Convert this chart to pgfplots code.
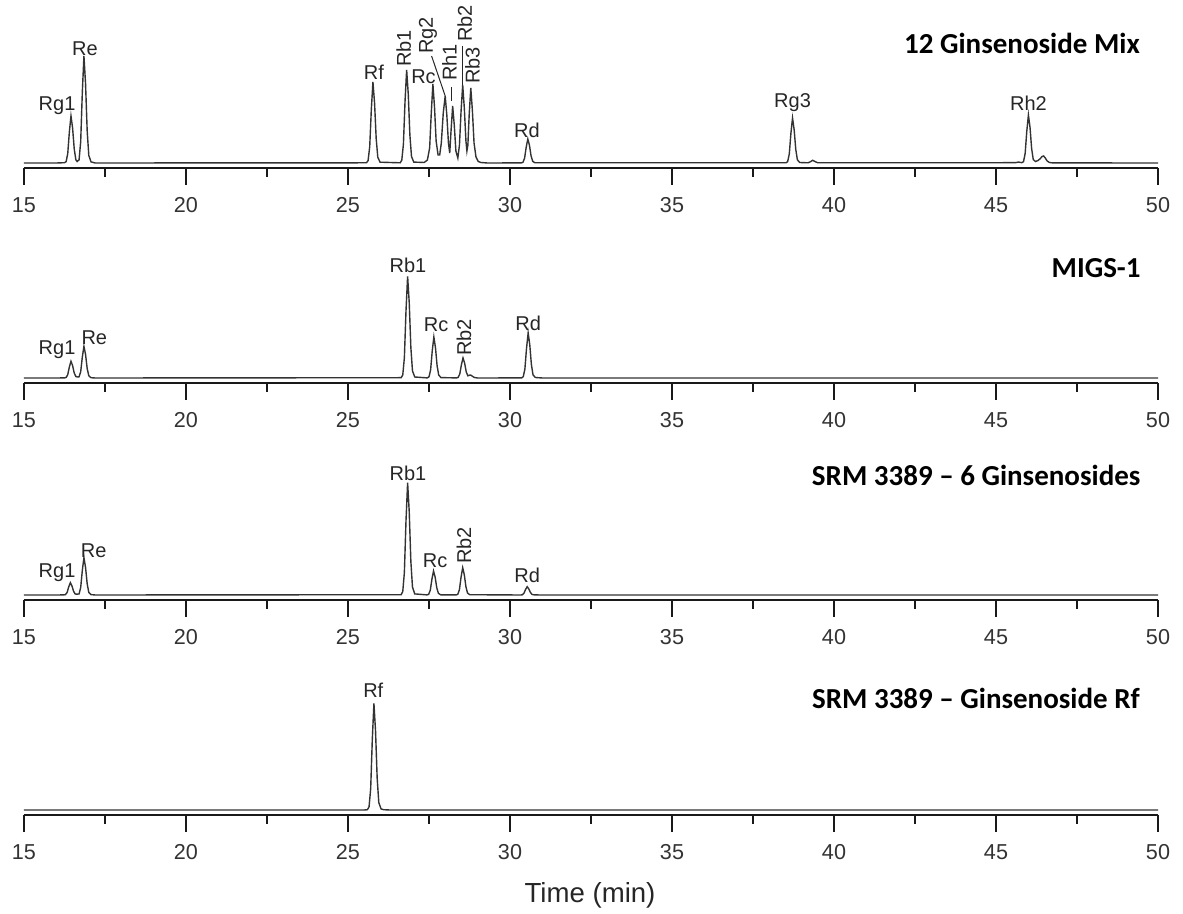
\documentclass[border=0pt]{standalone}
\usepackage{fontspec}
\setmainfont{Liberation Sans}
\newfontfamily\titlefont{Carlito}
\usepackage{pgfplots}
\pgfplotsset{compat=1.18}
\begin{document}
\begin{tikzpicture}
\pgfplotsset{
  panel/.style={
    width=567pt, height=75pt, scale only axis,
    xmin=15, xmax=50, ymin=-5, ymax=145,
    axis x line=bottom, hide y axis,
    axis line style={-, line width=1.3pt, black!90},
    xtick={15,20,...,50}, minor x tick num=1,
    tick align=outside, tick pos=bottom,
    major tick length=8.5pt, minor tick length=4.5pt,
    every tick/.append style={line width=1.3pt, black!90},
    /pgf/number format/assume math mode=true,
    xticklabel style={font=\fontsize{10.8}{12}\selectfont, text=black!80, yshift=-2.5pt,
      text height=7.8pt, text depth=0pt},
    clip=false,
  },
}
\tikzset{
  trace/.style={black!80, line width=0.7pt, mark=none},
  pk/.style={font=\fontsize{10}{11}\selectfont, text=black!85, inner sep=0pt},
  rpk/.style={pk, rotate=90, anchor=west},
  ttl/.style={font=\titlefont\bfseries\fontsize{14.5}{16}\selectfont, anchor=east, inner sep=0pt},
}
\useasboundingbox (-12pt,84pt) rectangle (579.5pt,-373pt);

% ---------------- Panel 1 ----------------
\begin{axis}[panel, at={(0,0)}]
\addplot[trace] coordinates {
(15,0) (16.0,0) (16.25,0.3) (16.30,1.4) (16.35,9.4) (16.40,31) (16.45,47) (16.50,35) (16.55,14.1)
(16.60,3.3) (16.64,1.5) (16.70,3.2) (16.75,21.4) (16.80,70.6) (16.85,107) (16.90,79.2) (16.95,32.1)
(17.00,7.5) (17.07,1.1) (17.2,0)
(25.57,0.2) (25.62,2.4) (25.67,16.2) (25.72,53.5) (25.77,81) (25.82,59.9) (25.87,24.3) (25.92,5.7) (25.99,0.8)
(26.61,0.2) (26.66,2.8) (26.71,18.6) (26.76,61.4) (26.81,93) (26.86,68.8) (26.91,27.9) (26.96,6.5) (27.03,0.9)
(27.35,0.5) (27.45,3) (27.52,15) (27.57,50) (27.62,79) (27.67,56) (27.72,22) (27.78,8) (27.83,8)
(27.88,20) (27.94,50) (28.00,67) (28.05,48) (28.10,20) (28.14,10) (28.18,32) (28.23,57) (28.28,38)
(28.33,12) (28.39,5) (28.44,18) (28.49,52) (28.54,78) (28.59,55) (28.64,22) (28.67,12) (28.70,18)
(28.74,48) (28.79,75) (28.84,52) (28.89,20) (28.95,6) (29.02,1.5) (29.1,0.5) (29.3,0)
(30.35,0.1) (30.40,0.7) (30.45,4.8) (30.50,15.8) (30.55,24) (30.60,17.8) (30.65,7.2) (30.70,1.7) (30.77,0.2)
(38.52,0.2) (38.57,1.4) (38.62,9) (38.67,29.7) (38.72,45) (38.77,33.3) (38.82,13.5) (38.87,3.2) (38.94,0.5)
(39.2,0.2) (39.27,1.2) (39.34,2.7) (39.41,1.5) (39.5,0.2)
(45.6,0.3) (45.7,1.0) (45.75,0.5) (45.80,0.4) (45.85,1.4) (45.90,9.6) (45.95,31.7) (46.00,48) (46.05,35.5)
(46.10,14.4) (46.15,3.4) (46.22,1.5) (46.30,2.5) (46.37,4.5) (46.42,6.5) (46.47,7) (46.52,5) (46.58,2)
(46.65,0.5) (46.75,0.1) (50,0)
};
\node[pk] at (axis cs:16.02,57) {Rg1};
\node[pk] at (axis cs:16.88,114) {Re};
\node[pk] at (axis cs:25.80,91) {Rf};
\node[rpk] at (axis cs:26.72,96) {Rb1};
\node[pk] at (axis cs:27.33,86) {Rc};
\node[rpk] at (axis cs:27.47,109) {Rg2};
\draw[black!85, line width=0.5pt] (axis cs:27.58,107) -- (axis cs:28.0,67);
\node[rpk] at (axis cs:28.13,82) {Rh1};
\draw[black!85, line width=0.5pt] (axis cs:28.2,62) -- (axis cs:28.2,76);
\node[rpk] at (axis cs:28.60,121) {Rb2};
\draw[black!85, line width=0.5pt] (axis cs:28.52,78) -- (axis cs:28.52,117);
\node[rpk] at (axis cs:28.84,79) {Rb3};
\node[pk] at (axis cs:30.52,33) {Rd};
\node[pk] at (axis cs:38.72,60) {Rg3};
\node[pk] at (axis cs:46.0,60) {Rh2};
\node[ttl] at (axis cs:49.45,120) {12 Ginsenoside Mix};
\end{axis}

% ---------------- Panel 2 ----------------
\begin{axis}[panel, at={(0,-107.5pt)}]
\addplot[trace] coordinates {
(15,0) (16.0,0) (16.25,0.1) (16.30,0.5) (16.35,3.3) (16.40,11) (16.45,16.7) (16.50,12.4) (16.55,5)
(16.60,1.5) (16.65,1.0) (16.70,1.2) (16.75,6.3) (16.80,20.9) (16.85,31.7) (16.90,23.5) (16.95,9.5)
(17.00,2.2) (17.07,0.3) (17.2,0)
(26.64,0.3) (26.69,3) (26.74,20.3) (26.79,67.1) (26.84,101.7) (26.89,75.3) (26.94,30.5) (26.99,7.1) (27.06,1)
(27.45,0.1) (27.50,1.2) (27.55,8.2) (27.60,27.1) (27.65,41) (27.70,30.3) (27.75,12.3) (27.80,2.9) (27.87,0.4)
(28.35,0.1) (28.40,0.6) (28.45,4) (28.50,13.2) (28.55,20) (28.60,14.8) (28.65,6) (28.70,2.2) (28.75,2.8)
(28.78,3) (28.83,2) (28.9,0.5) (29.0,0)
(30.36,0.1) (30.41,1.4) (30.46,9) (30.51,29.7) (30.56,45) (30.61,33.3) (30.66,13.5) (30.71,3.2) (30.78,0.5)
(31.0,0) (50,0)
};
\node[pk] at (axis cs:16.02,28.3) {Rg1};
\node[pk] at (axis cs:17.17,40) {Re};
\node[pk] at (axis cs:26.85,113) {Rb1};
\node[pk] at (axis cs:27.72,53) {Rc};
\node[rpk] at (axis cs:28.58,22) {Rb2};
\node[pk] at (axis cs:30.56,55) {Rd};
\node[ttl] at (axis cs:49.47,110) {MIGS-1};
\end{axis}

% ---------------- Panel 3 ----------------
\begin{axis}[panel, at={(0,-216pt)}]
\addplot[trace] coordinates {
(15,0) (16.0,0) (16.23,0.1) (16.28,0.4) (16.33,2.5) (16.38,8.1) (16.43,12.3) (16.48,9.1) (16.53,3.7)
(16.58,1.0) (16.64,0.8) (16.70,1.1) (16.75,7.5) (16.80,24.6) (16.85,37.3) (16.90,27.6) (16.95,11.2)
(17.00,2.6) (17.07,0.4) (17.2,0)
(26.64,0.3) (26.69,3.4) (26.74,22.5) (26.79,74.1) (26.84,112.3) (26.89,83.1) (26.94,33.7) (26.99,7.9) (27.06,1.1)
(27.44,0.1) (27.49,0.7) (27.54,4.8) (27.59,15.8) (27.64,24) (27.69,17.8) (27.74,7.2) (27.79,1.7) (27.86,0.2)
(28.34,0.1) (28.39,0.8) (28.44,5.5) (28.49,18) (28.54,27.3) (28.59,20.2) (28.64,8.2) (28.69,1.9) (28.76,0.3)
(30.33,0) (30.38,0.2) (30.43,1.7) (30.48,5.5) (30.53,8.3) (30.58,6.1) (30.63,2.5) (30.68,0.6) (30.75,0.1)
(31.0,0) (50,0)
};
\node[pk] at (axis cs:16.02,22.3) {Rg1};
\node[pk] at (axis cs:17.15,44.7) {Re};
\node[pk] at (axis cs:26.85,122) {Rb1};
\node[pk] at (axis cs:27.69,34.7) {Rc};
\node[rpk] at (axis cs:28.58,30.7) {Rb2};
\node[pk] at (axis cs:30.53,20) {Rd};
\node[ttl] at (axis cs:49.47,120) {SRM 3389 – 6 Ginsenosides};
\end{axis}

% ---------------- Panel 4 ----------------
\begin{axis}[panel, at={(0,-323.5pt)}]
\addplot[trace] coordinates {
(15,0) (25.5,0) (25.60,0.3) (25.65,3.2) (25.70,21.3) (25.75,70.4) (25.80,106.7) (25.85,79) (25.90,32)
(25.95,7.5) (26.02,1.1) (26.1,0.3) (26.3,0) (50,0)
};
\node[pk] at (axis cs:25.78,119.3) {Rf};
\node[ttl] at (axis cs:49.45,112) {SRM 3389 – Ginsenoside Rf};
\node[font=\fontsize{13.8}{15}\selectfont, text=black!85, inner sep=0pt] at (axis cs:32.47,-85) {Time (min)};
\end{axis}
\end{tikzpicture}
\end{document}
